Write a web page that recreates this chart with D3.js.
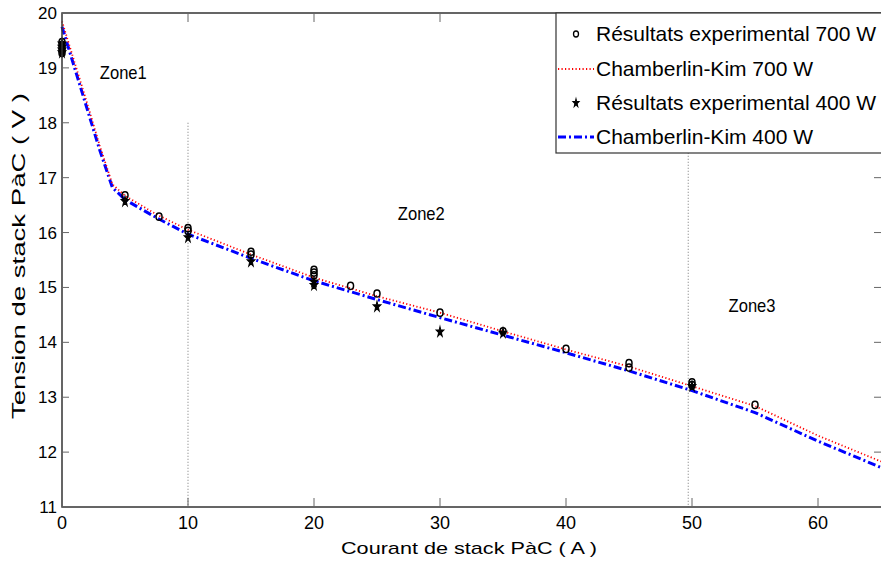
<!DOCTYPE html>
<html>
<head>
<meta charset="utf-8">
<script src="https://cdn.jsdelivr.net/npm/d3@7"></script>
<style>
  body { margin: 0; background: #fff; }
  text { font-family: "Liberation Sans", Arial, sans-serif; fill: #000; }
</style>
</head>
<body>
<div id="vis"></div>
<script>
// experimental points
const exp700I = [0, 0, 0, 0, 0, 5, 7.7, 10, 10, 15, 15, 20, 20, 20, 22.9, 25, 30, 35, 40, 45, 45, 50, 50, 55];
const exp700V = [19.47, 19.42, 19.37, 19.32, 19.27, 16.68, 16.29, 16.08, 16.03, 15.65, 15.6, 15.32, 15.27, 15.22, 15.03, 14.89, 14.54, 14.2, 13.88, 13.62, 13.54, 13.27, 13.22, 12.86];
const exp400I = [0, 0, 0, 0, 5, 10, 15, 20, 20, 25, 30, 35, 50];
const exp400V = [19.44, 19.38, 19.33, 19.28, 16.57, 15.91, 15.47, 15.1, 15.04, 14.65, 14.19, 14.17, 13.2];

// Chamberlin-Kim model curves
const modelI = [0, 1, 2, 3, 4, 5, 7.5, 10, 15, 20, 25, 30, 35, 40, 45, 50, 55, 60, 65];
const ck700V = [19.85, 19.1, 18.35, 17.58, 16.88, 16.67, 16.33, 16.05, 15.6, 15.18, 14.84, 14.54, 14.2, 13.87, 13.56, 13.2, 12.84, 12.3, 11.83];
const ck400V = [19.75, 19.0, 18.25, 17.5, 16.82, 16.6, 16.27, 15.97, 15.53, 15.12, 14.78, 14.45, 14.13, 13.81, 13.48, 13.12, 12.72, 12.2, 11.72];

const xTicks = [0, 10, 20, 30, 40, 50, 60];
const yTicks = [11, 12, 13, 14, 15, 16, 17, 18, 19, 20];

// zone separators (current, top voltage)
const zoneLineI = [10, 49.7];
const zoneLineTop = [18, 18];
const zoneNames = ["Zone1", "Zone2", "Zone3"];
const zoneI = [3.0, 26.65, 52.9];
const zoneV = [18.8, 16.23, 14.55];

const legendNames = ["Résultats experimental 700 W", "Chamberlin-Kim 700 W", "Résultats experimental 400 W", "Chamberlin-Kim 400 W"];

const W = 881, H = 561;
const margin = { top: 13, right: 0, bottom: 54, left: 62 };
const width = W - margin.left - margin.right;
const height = H - margin.top - margin.bottom;

const svg = d3.select("#vis")
  .append("svg")
  .attr("width", W)
  .attr("height", H);

const chart = svg.append("g")
  .attr("transform", `translate(${margin.left}, ${margin.top})`);

const x = d3.scaleLinear().domain([0, 65]).range([0, width]);
const y = d3.scaleLinear().domain([11, 20]).range([height, 0]);

// zone separators
zoneLineI.forEach((v, i) => {
  chart.append("line")
    .attr("x1", x(v)).attr("x2", x(v))
    .attr("y1", y(zoneLineTop[i])).attr("y2", y(11))
    .attr("stroke", "#777")
    .attr("stroke-width", 1)
    .attr("stroke-dasharray", "1,2");
});

// zone labels
zoneNames.forEach((n, i) => {
  chart.append("text")
    .attr("x", x(zoneI[i]))
    .attr("y", y(zoneV[i]))
    .attr("font-size", 19)
    .attr("textLength", 47)
    .attr("lengthAdjust", "spacingAndGlyphs")
    .text(n);
});

// model lines
const line = d3.line()
  .x(d => x(d[0]))
  .y(d => y(d[1]));

chart.append("path")
  .datum(modelI.map((v, i) => [v, ck400V[i]]))
  .attr("d", line)
  .attr("fill", "none")
  .attr("stroke", "#0000ff")
  .attr("stroke-width", 3)
  .attr("stroke-dasharray", "8,3,2,3");

chart.append("path")
  .datum(modelI.map((v, i) => [v, ck700V[i]]))
  .attr("d", line)
  .attr("fill", "none")
  .attr("stroke", "#ff0000")
  .attr("stroke-width", 1.8)
  .attr("stroke-dasharray", "1.2,2.3");

// experimental points
const star = d3.symbol().type(d3.symbolStar).size(16);

chart.selectAll(".p400")
  .data(exp400I.map((v, i) => [v, exp400V[i]]))
  .enter()
  .append("path")
  .attr("class", "p400")
  .attr("d", star)
  .attr("transform", d => `translate(${x(d[0])},${y(d[1])}) scale(1,1.4)`)
  .attr("fill", "#000")
  .attr("stroke", "#000")
  .attr("stroke-width", 1);

chart.selectAll(".p700")
  .data(exp700I.map((v, i) => [v, exp700V[i]]))
  .enter()
  .append("ellipse")
  .attr("class", "p700")
  .attr("cx", d => x(d[0]))
  .attr("cy", d => y(d[1]))
  .attr("rx", 3)
  .attr("ry", 3.6)
  .attr("fill", "none")
  .attr("stroke", "#000")
  .attr("stroke-width", 1.5);

// axes box with inward ticks
const tickLen = 9;
const axisG = chart.append("g");
axisG.append("rect")
  .attr("x", 0).attr("y", 0)
  .attr("width", width + 10).attr("height", height)
  .attr("fill", "none")
  .attr("stroke", "#333")
  .attr("stroke-width", 1.5);

xTicks.forEach(t => {
  axisG.append("line")
    .attr("x1", x(t)).attr("x2", x(t))
    .attr("y1", height).attr("y2", height - tickLen)
    .attr("stroke", "#666");
  axisG.append("line")
    .attr("x1", x(t)).attr("x2", x(t))
    .attr("y1", 0).attr("y2", tickLen)
    .attr("stroke", "#666");
  axisG.append("text")
    .attr("x", x(t))
    .attr("y", height + 22)
    .attr("text-anchor", "middle")
    .attr("font-size", 18)
    .text(t);
});

yTicks.forEach(t => {
  axisG.append("line")
    .attr("x1", 0).attr("x2", tickLen - 2)
    .attr("y1", y(t)).attr("y2", y(t))
    .attr("stroke", "#666");
  axisG.append("line")
    .attr("x1", width).attr("x2", width - tickLen + 2)
    .attr("y1", y(t)).attr("y2", y(t))
    .attr("stroke", "#666");
  axisG.append("text")
    .attr("x", -5)
    .attr("y", y(t) + 6)
    .attr("text-anchor", "end")
    .attr("font-size", 17)
    .text(t);
});

// axis labels
svg.append("text")
  .attr("x", 469)
  .attr("y", 554)
  .attr("text-anchor", "middle")
  .attr("font-size", 17)
  .attr("textLength", 256)
  .attr("lengthAdjust", "spacingAndGlyphs")
  .text("Courant de stack PàC ( A )");

svg.append("text")
  .attr("transform", "translate(25, 256) rotate(-90)")
  .attr("text-anchor", "middle")
  .attr("font-size", 18)
  .attr("textLength", 326)
  .attr("lengthAdjust", "spacingAndGlyphs")
  .text("Tension de stack PàC ( V )");

// legend
const lg = svg.append("g").attr("transform", "translate(556, 13)");
lg.append("rect")
  .attr("x", 0).attr("y", 0)
  .attr("width", 340).attr("height", 140)
  .attr("fill", "#fff")
  .attr("stroke", "#333")
  .attr("stroke-width", 1.2);

const rowY = [21, 56, 90, 124];
legendNames.forEach((n, i) => {
  lg.append("text")
    .attr("x", 40)
    .attr("y", rowY[i] + 7)
    .attr("font-size", 21)
    .text(n);
});

lg.append("ellipse")
  .attr("cx", 20).attr("cy", rowY[0])
  .attr("rx", 2.5).attr("ry", 3)
  .attr("fill", "none").attr("stroke", "#000").attr("stroke-width", 1.3);

lg.append("line")
  .attr("x1", 2).attr("x2", 38)
  .attr("y1", rowY[1]).attr("y2", rowY[1])
  .attr("stroke", "#ff0000").attr("stroke-width", 1.8)
  .attr("stroke-dasharray", "1.2,2.3");

lg.append("path")
  .attr("d", d3.symbol().type(d3.symbolStar).size(12))
  .attr("transform", `translate(20,${rowY[2]}) scale(1,1.4)`)
  .attr("fill", "#000")
  .attr("stroke", "#000")
  .attr("stroke-width", 0.8);

lg.append("line")
  .attr("x1", 2).attr("x2", 38)
  .attr("y1", rowY[3]).attr("y2", rowY[3])
  .attr("stroke", "#0000ff").attr("stroke-width", 3)
  .attr("stroke-dasharray", "8,3,2,3");
</script>
</body>
</html>
